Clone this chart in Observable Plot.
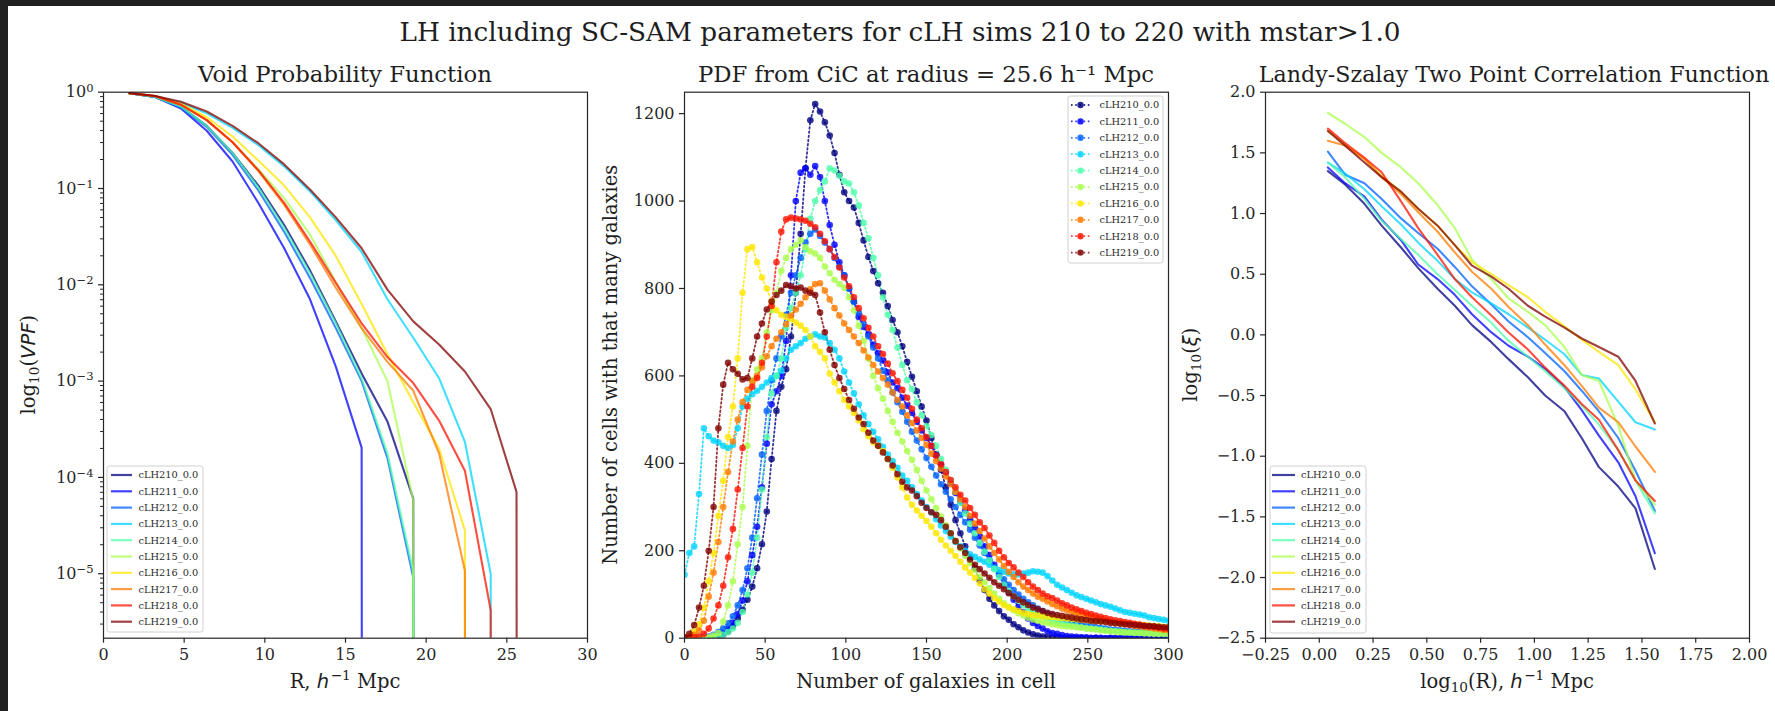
<!DOCTYPE html>
<html>
<head>
<meta charset="utf-8">
<script src="https://cdn.jsdelivr.net/npm/d3@7"></script>
<script src="https://cdn.jsdelivr.net/npm/@observablehq/plot@0.6"></script>
<style>
  html, body { margin: 0; padding: 0; background: #212121; }
  #page { position: relative; width: 1775px; height: 711px; overflow: hidden; background: #212121; }
  #sheet { position: absolute; left: 8px; top: 6px; width: 1767px; height: 705px; background: #ffffff; }
  #page > svg { position: absolute; top: 0; }
</style>
</head>
<body>
<div id="page"><div id="sheet"></div></div>
<script>
// ---------------- DATA ----------------
const simNames = ["cLH210_0.0","cLH211_0.0","cLH212_0.0","cLH213_0.0","cLH214_0.0",
                  "cLH215_0.0","cLH216_0.0","cLH217_0.0","cLH218_0.0","cLH219_0.0"];
const jetColors = ["#000080","#0000fe","#0060ff","#00d4ff","#4dffaa",
                   "#aaff4d","#ffe600","#ff7a00","#ff1300","#800000"];

// Void probability function: radius grid (h^-1 Mpc) and log10(VPF); null = VPF of 0
const vpfR = [1.6,3.2,4.8,6.4,8.0,9.6,11.2,12.8,14.4,16.0,17.6,19.2,20.8,22.4,24.0,25.6,27.2];
const vpfLog210 = [-0.01,-0.05,-0.15,-0.35,-0.63,-0.97,-1.38,-1.85,-2.38,-2.92,-3.42,-4.22,null];
const vpfLog211 = [-0.01,-0.05,-0.17,-0.40,-0.72,-1.15,-1.62,-2.15,-2.85,-3.69,null];
const vpfLog212 = [-0.01,-0.05,-0.16,-0.36,-0.65,-1.02,-1.45,-1.93,-2.45,-3.00,-3.80,-5.04,null];
const vpfLog213 = [-0.01,-0.04,-0.11,-0.22,-0.37,-0.55,-0.77,-1.03,-1.33,-1.66,-2.15,-2.55,-2.97,-3.63,-5.00,null];
const vpfLog214 = [-0.01,-0.05,-0.15,-0.35,-0.63,-0.99,-1.41,-1.88,-2.40,-2.97,-3.75,-4.98,null];
const vpfLog215 = [-0.01,-0.04,-0.13,-0.29,-0.52,-0.80,-1.10,-1.48,-1.97,-2.45,-3.00,-4.24,null];
const vpfLog216 = [-0.01,-0.04,-0.12,-0.26,-0.46,-0.71,-0.97,-1.30,-1.70,-2.20,-2.72,-3.22,-3.70,-4.55,null];
const vpfLog217 = [-0.01,-0.04,-0.13,-0.29,-0.52,-0.82,-1.17,-1.58,-2.03,-2.45,-2.80,-3.10,-3.75,-4.97,null];
const vpfLog218 = [-0.01,-0.04,-0.13,-0.29,-0.52,-0.81,-1.15,-1.55,-1.98,-2.40,-2.75,-3.02,-3.41,-3.93,-5.38,null];
const vpfLog219 = [-0.01,-0.04,-0.10,-0.20,-0.35,-0.53,-0.75,-1.01,-1.30,-1.62,-2.05,-2.38,-2.62,-2.90,-3.29,-4.15,null];
const vpfTicksX = [0,5,10,15,20,25,30];
const vpfTicksY = [1,1e-1,1e-2,1e-3,1e-4,1e-5];

// Counts in cells: number of galaxies in cell and number of cells
const cicN = [0,3,6,9,12,15,18,21,24,27,30,33,36,39,42,45,48,51,54,57,60,63,66,69,72,75,78,81,84,87,
  90,93,96,99,102,105,108,111,114,117,120,123,126,129,132,135,138,141,144,147,150,153,156,159,162,
  165,168,171,174,177,180,183,186,189,192,195,198,201,204,207,210,213,216,219,222,225,228,231,234,
  237,240,243,246,249,252,255,258,261,264,267,270,273,276,279,282,285,288,291,294,297,300];
const cic210 = [0,0,0,0,0,1,1,3,8,15, 28,45,65,88,118,160,215,290,410,520,
  575,615,690,790,925,1075,1185,1222,1205,1180, 1150,1110,1060,1020,1000,985,950,910,872,840,
  812,790,760,728,700,668,632,598,565,530, 498,458,420,385,345,305,270,240,210,185,
  160,132,110,90,75,62,50,42,32,25, 18,13,9,6,4,3,2,2,1,1, 1,0,1,0,0,1,0,0,0,0, 0,0,0,0,0,0,0,0,0,0, 0];
const cic211 = [0,0,0,0,0,1,3,6,12,22, 35,55,86,130,190,255,345,445,535,565,
  600,680,830,1000,1065,1075,1060,1080,1055,1000, 945,900,860,830,800,770,735,712,695,672,
  652,635,608,585,572,550,532,515,495,475, 458,440,418,398,380,355,332,312,292,272,
  252,232,210,190,168,145,122,105,88,72, 60,45,35,28,22,16,12,10,7,5, 4,3,2,2,1,1,1,0,1,0, 0,0,0,0,0,0,0,0,0,0, 0];
const cic212 = [0,0,0,1,2,4,8,14,22,34, 50,75,110,160,230,320,420,520,590,640,
  690,740,790,830,870,905,925,935,920,905, 890,870,850,830,800,770,745,718,690,665,
  640,612,590,562,540,518,495,472,452,432, 412,392,372,352,335,318,300,282,265,248,
  230,212,195,178,162,148,135,122,110,100, 90,82,75,68,62,56,52,48,44,40,
  37,34,31,29,27,25,23,22,20,19, 18,17,16,15,14,13,13,12,11,11, 10];
const cic213 = [145,195,210,330,480,462,452,448,440,435, 442,480,530,548,558,566,575,585,595,600,
  612,640,660,668,675,685,690,695,690,688, 675,660,640,610,585,560,535,510,490,472,
  455,438,420,405,390,372,360,345,330,315, 300,288,272,258,245,232,220,210,200,192,
  186,180,175,168,160,156,152,148,146,146, 148,150,153,152,150,142,132,122,116,110,
  104,98,94,90,86,82,78,75,72,68, 64,60,58,56,54,52,48,46,44,42, 40];
const cic214 = [0,0,0,0,0,1,2,4,8,14, 22,35,60,100,150,230,340,460,560,600,
  640,710,755,790,830,890,960,1000,1025,1045, 1075,1070,1058,1045,1040,1020,990,950,915,870,
  830,780,740,705,665,625,590,570,540,510, 485,465,440,410,385,360,335,310,285,262,
  240,218,198,178,158,140,122,108,96,86, 76,68,60,54,50,45,40,37,34,31,
  29,27,25,23,22,21,20,18,17,16, 15,14,13,13,12,12,11,11,10,10, 9];
const cic215 = [0,0,0,0,0,2,6,12,38,75, 130,215,300,440,590,615,640,700,750,790,
  840,870,890,900,910,895,885,880,870,850, 835,820,810,802,780,750,715,680,640,600,
  572,548,520,495,470,450,428,408,385,360, 338,318,298,278,258,240,222,205,188,172,
  156,140,128,115,102,90,80,72,64,57, 52,47,43,40,37,34,32,30,28,27,
  26,25,24,22,21,20,18,17,16,15, 14,13,13,12,12,11,11,10,10,10, 9];
const cic216 = [2,6,15,32,70,130,195,280,360,460, 530,640,790,890,895,860,825,800,770,750,
  740,735,730,722,715,705,690,668,655,640, 605,585,565,545,530,515,498,478,462,448,
  440,428,410,390,368,345,322,305,292,280, 268,255,240,225,212,200,188,175,162,150,
  138,125,112,102,92,84,76,70,66,62, 58,55,53,52,50,49,48,47,46,45,
  44,43,42,41,40,40,39,38,37,36, 35,34,33,32,31,30,29,28,27,26, 25];
const cic217 = [1,3,8,18,40,95,150,220,300,380, 450,500,540,568,588,600,620,645,668,685,
  700,718,738,752,765,780,798,810,812,795, 775,755,738,720,705,690,675,658,642,625,
  610,595,580,562,545,530,510,492,475,458, 442,422,405,388,370,352,335,318,300,280,
  262,245,228,210,195,180,165,152,140,128, 118,110,102,95,90,84,78,73,68,64,
  60,57,54,52,49,46,43,41,38,36, 34,32,30,28,27,25,24,22,21,19, 18];
const cic218 = [0,1,2,4,10,22,45,75,120,185, 250,340,435,530,575,595,630,690,760,860,
  930,958,962,960,958,955,948,940,925,908, 890,872,848,825,805,780,755,732,710,690,
  668,650,628,606,588,568,550,525,500,480, 460,440,418,398,380,362,345,328,315,298,
  282,265,252,235,218,200,185,172,162,150, 140,128,118,110,102,96,92,86,80,75,
  70,66,62,58,55,52,49,46,43,41, 39,37,35,33,31,29,27,26,24,22, 21];
const cic219 = [2,10,30,70,120,200,300,480,580,630, 615,605,592,595,640,690,720,752,770,785,
  795,808,805,800,802,795,790,785,745,700, 660,625,595,570,545,525,505,490,470,452,
  440,425,410,395,375,358,345,338,325,310, 298,288,282,270,255,240,222,208,195,180,
  168,158,148,138,128,120,112,103,96,88, 82,76,70,66,62,58,55,53,51,49,
  47,45,43,42,40,39,38,37,35,34, 33,32,31,30,29,28,28,27,26,25, 25];
const cicTicksX = [0,50,100,150,200,250,300];
const cicTicksY = [0,200,400,600,800,1000,1200];

// Landy-Szalay 2PCF: log10(R) and log10(xi)
const tpcfLogR = [0.04,0.12,0.21,0.29,0.38,0.46,0.55,0.63,0.71,0.80,0.88,0.97,1.05,1.14,1.22,1.30,1.39,1.47,1.56];
const tpcf210 = [1.35,1.24,1.08,0.90,0.72,0.55,0.38,0.24,0.08,-0.06,-0.20,-0.35,-0.50,-0.63,-0.85,-1.09,-1.25,-1.43,-1.93];
const tpcf211 = [1.38,1.25,1.14,0.95,0.78,0.58,0.46,0.33,0.17,0.02,-0.09,-0.18,-0.28,-0.43,-0.62,-0.83,-1.05,-1.33,-1.80];
const tpcf212 = [1.51,1.32,1.25,1.12,0.96,0.84,0.71,0.56,0.40,0.25,0.11,-0.02,-0.15,-0.30,-0.46,-0.63,-0.85,-1.12,-1.45];
const tpcf213 = [1.42,1.33,1.20,1.06,0.91,0.76,0.61,0.46,0.35,0.26,0.17,0.06,-0.04,-0.16,-0.33,-0.36,-0.55,-0.72,-0.78];
const tpcf214 = [1.42,1.30,1.12,0.94,0.79,0.66,0.50,0.37,0.24,0.10,-0.05,-0.18,-0.30,-0.44,-0.58,-0.74,-0.95,-1.20,-1.47];
const tpcf215 = [1.83,1.74,1.63,1.50,1.38,1.25,1.07,0.88,0.62,0.46,0.30,0.19,0.08,-0.10,-0.33,-0.38,-0.75,-1.20,-1.40];
const tpcf216 = [1.68,1.57,1.45,1.31,1.18,1.04,0.90,0.74,0.60,0.50,0.41,0.31,0.19,0.07,-0.04,-0.14,-0.25,-0.45,-0.72];
const tpcf217 = [1.60,1.56,1.45,1.30,1.16,1.01,0.85,0.68,0.52,0.38,0.23,0.08,-0.08,-0.25,-0.42,-0.60,-0.72,-0.92,-1.13];
const tpcf218 = [1.70,1.58,1.46,1.34,1.10,0.88,0.66,0.46,0.31,0.16,0.02,-0.12,-0.27,-0.42,-0.57,-0.70,-0.95,-1.20,-1.37];
const tpcf219 = [1.68,1.56,1.42,1.30,1.18,1.04,0.90,0.74,0.57,0.48,0.38,0.24,0.15,0.06,-0.03,-0.10,-0.18,-0.38,-0.73];
const tpcfTicksX = [-0.25,0,0.25,0.5,0.75,1,1.25,1.5,1.75,2];
const tpcfTicksY = [-2.5,-2,-1.5,-1,-0.5,0,0.5,1,1.5,2];

// ---------------- TABLES ----------------
const vpfLog = [vpfLog210,vpfLog211,vpfLog212,vpfLog213,vpfLog214,vpfLog215,vpfLog216,vpfLog217,vpfLog218,vpfLog219];
const cicCounts = [cic210,cic211,cic212,cic213,cic214,cic215,cic216,cic217,cic218,cic219];
const tpcfLog = [tpcf210,tpcf211,tpcf212,tpcf213,tpcf214,tpcf215,tpcf216,tpcf217,tpcf218,tpcf219];

const vpfRows = simNames.flatMap((sim, i) => vpfLog[i].map((v, j) => ({sim, R: vpfR[j], v})));
const cicRows = simNames.flatMap((sim, i) => cicCounts[i].map((c, j) => ({sim, N: cicN[j], c})));
const tpcfRows = simNames.flatMap((sim, i) => tpcfLog[i].map((v, j) => ({sim, lr: tpcfLogR[j], v})));

// ---------------- LAYOUT ----------------
const FONT = "'DejaVu Serif', serif";
const INK = "#262626";
const FRAME_W = 484, ML = 80, MR = 10, MT = 91.7, MB = 73.3, H = 711;
const frameLefts = [103, 684, 1265];
const page = document.getElementById("page");

function baseOpts() {
  return {
    width: ML + FRAME_W + MR, height: H,
    marginLeft: ML, marginRight: MR, marginTop: MT, marginBottom: MB,
    style: {background: "transparent", fontFamily: FONT, fontSize: "16px", color: INK, overflow: "visible"},
    color: {domain: simNames, range: jetColors}
  };
}
function place(svg, i) {
  svg.style.position = "absolute";
  svg.style.left = (frameLefts[i] - ML) + "px";
  svg.style.top = "0px";
  page.appendChild(svg);
  return svg;
}
// exponent label "10^e", turned into a real superscript after rendering
const pow10Label = d => "10^" + String(Math.round(Math.log10(d))).replace("-", "−");

// Panel 1: VPF
const vpfDomain = [2.14e-6, 1];
const vpfMinor = [];
for (let e = -6; e < 0; e++) for (let m = 2; m <= 9; m++) { const t = m * Math.pow(10, e); if (t >= vpfDomain[0]) vpfMinor.push(t); }

const svg1 = place(Plot.plot({
  ...baseOpts(),
  x: {domain: [0, 30]},
  y: {type: "log", domain: vpfDomain},
  marks: [
    Plot.line(vpfRows, {x: "R", y: d => d.v === null ? 1e-300 : Math.pow(10, d.v), z: "sim", stroke: "sim",
      strokeWidth: 2.1, strokeOpacity: 0.75, clip: true}),
    Plot.axisY({ticks: vpfMinor, tickSize: 3, tickFormat: () => "", strokeWidth: 1, label: null}),
    Plot.axisY({ticks: vpfTicksY, tickSize: 5, tickPadding: 5, tickFormat: pow10Label, strokeWidth: 1.2, label: null}),
    Plot.axisX({ticks: vpfTicksX, tickSize: 5, tickPadding: 5, tickFormat: d => String(d), strokeWidth: 1.2, label: null}),
    Plot.frame({stroke: INK, strokeWidth: 1.2})
  ]
}), 0);
d3.select(svg1).selectAll("text").each(function () {
  const m = this.textContent.match(/^10\^(.+)$/);
  if (m) {
    this.textContent = "10";
    d3.select(this).append("tspan").attr("dy", "-0.5em").attr("font-size", "0.72em").text(m[1]);
  }
});

// Panel 2: CiC PDF
place(Plot.plot({
  ...baseOpts(),
  x: {domain: [0, 300]},
  y: {domain: [0, 1249]},
  marks: [
    Plot.line(cicRows, {x: "N", y: "c", z: "sim", stroke: "sim", strokeWidth: 1.8, strokeDasharray: "1.6,2.6",
      strokeOpacity: 0.8, clip: true}),
    Plot.dot(cicRows, {x: "N", y: "c", fill: "sim", r: 3.3, fillOpacity: 0.8, clip: true}),
    Plot.axisY({ticks: cicTicksY, tickSize: 5, tickPadding: 5, tickFormat: d => String(d), strokeWidth: 1.2, label: null}),
    Plot.axisX({ticks: cicTicksX, tickSize: 5, tickPadding: 5, tickFormat: d => String(d), strokeWidth: 1.2, label: null}),
    Plot.frame({stroke: INK, strokeWidth: 1.2})
  ]
}), 1);

// Panel 3: 2PCF
const f2 = d3.format(".2f"), f1 = d3.format(".1f");
place(Plot.plot({
  ...baseOpts(),
  x: {domain: [-0.25, 2]},
  y: {domain: [-2.5, 2]},
  marks: [
    Plot.line(tpcfRows, {x: "lr", y: "v", z: "sim", stroke: "sim", strokeWidth: 2.1, strokeOpacity: 0.75, clip: true}),
    Plot.axisY({ticks: tpcfTicksY, tickSize: 5, tickPadding: 5, tickFormat: f1, strokeWidth: 1.2, label: null}),
    Plot.axisX({ticks: tpcfTicksX, tickSize: 5, tickPadding: 5, tickFormat: f2, strokeWidth: 1.2, label: null}),
    Plot.frame({stroke: INK, strokeWidth: 1.2})
  ]
}), 2);

// ---------------- TEXT & LEGENDS ----------------
const ov = d3.select(page).append("svg")
  .attr("width", 1775).attr("height", 711)
  .style("position", "absolute").style("left", "0px").style("top", "0px")
  .attr("font-family", FONT).attr("fill", "#1e1e1e");

function rich(x, y, parts, size, opts = {}) {
  const t = ov.append("text").attr("x", x).attr("y", y).attr("font-size", size)
    .attr("text-anchor", opts.anchor || "middle");
  if (opts.rotate) t.attr("transform", `rotate(-90,${x},${y})`);
  let cur = 0;
  for (const [s, kind] of parts) {
    const ts = t.append("tspan").text(s);
    let shift = 0, fs = size;
    if (kind === "sup") { shift = -0.42 * size; fs = 0.7 * size; ts.attr("dx", 1.5); }
    if (kind === "sub") { shift = 0.22 * size; fs = 0.7 * size; }
    if (kind === "i") ts.attr("font-style", "italic").attr("font-family", "'DejaVu Sans', sans-serif");
    ts.attr("font-size", fs).attr("dy", shift - cur);
    cur = shift;
  }
  return t;
}

const cx = frameLefts.map(l => l + FRAME_W / 2);
rich(900, 41, [["LH including SC-SAM parameters for cLH sims 210 to 220 with mstar>1.0", ""]], 26.3);
rich(cx[0], 82, [["Void Probability Function", ""]], 22.8);
rich(cx[1], 82, [["PDF from CiC at radius = 25.6 h⁻¹ Mpc", ""]], 22.8);
// nudged right a little so it clears the "2.0" tick label below its left end
rich(cx[2] + 7, 82, [["Landy-Szalay Two Point Correlation Function", ""]], 22.2);

rich(cx[0], 688, [["R, ", ""], ["h", "i"], ["−1", "sup"], [" Mpc", ""]], 19.5);
rich(cx[1], 688, [["Number of galaxies in cell", ""]], 19.5);
rich(cx[2], 688, [["log", ""], ["10", "sub"], ["(R), ", ""], ["h", "i"], ["−1", "sup"], [" Mpc", ""]], 19.5);

const cy = MT + (H - MT - MB) / 2;
rich(35, cy, [["log", ""], ["10", "sub"], ["(", ""], ["VPF", "i"], [")", ""]], 19.5, {rotate: true});
rich(617, cy, [["Number of cells with that many galaxies", ""]], 19.5, {rotate: true});
rich(1197, cy, [["log", ""], ["10", "sub"], ["(", ""], ["ξ", "i"], [")", ""]], 19.5, {rotate: true});

function legend(x0, y0, w, h, rowY0, rowStep, hx0, hx1, tx, dotted) {
  ov.append("rect").attr("x", x0).attr("y", y0).attr("width", w).attr("height", h)
    .attr("rx", 2.5).attr("fill", "white").attr("fill-opacity", 0.8)
    .attr("stroke", "#d0d0d0").attr("stroke-width", 1);
  simNames.forEach((name, i) => {
    const y = rowY0 + i * rowStep;
    const ln = ov.append("line").attr("x1", hx0).attr("x2", hx1).attr("y1", y).attr("y2", y)
      .attr("stroke", jetColors[i]);
    if (dotted) {
      ln.attr("stroke-width", 1.8).attr("stroke-dasharray", "1.6,2.6").attr("stroke-opacity", 0.8);
      ov.append("circle").attr("cx", (hx0 + hx1) / 2).attr("cy", y).attr("r", 3.2)
        .attr("fill", jetColors[i]).attr("fill-opacity", 0.85);
    } else {
      ln.attr("stroke-width", 2.2).attr("stroke-opacity", 0.75);
    }
    ov.append("text").attr("x", tx).attr("y", y + 3.4).attr("font-size", 9.8)
      .attr("fill", "#2a2a2a").text(name);
  });
}
legend(107, 466, 96, 166, 475, 16.3, 111, 132, 138.5, false);
legend(1068, 96, 95, 167, 105, 16.4, 1071, 1090, 1099.5, true);
legend(1270, 466, 96, 167, 475, 16.3, 1272, 1295, 1301, false);
</script>
</body>
</html>
